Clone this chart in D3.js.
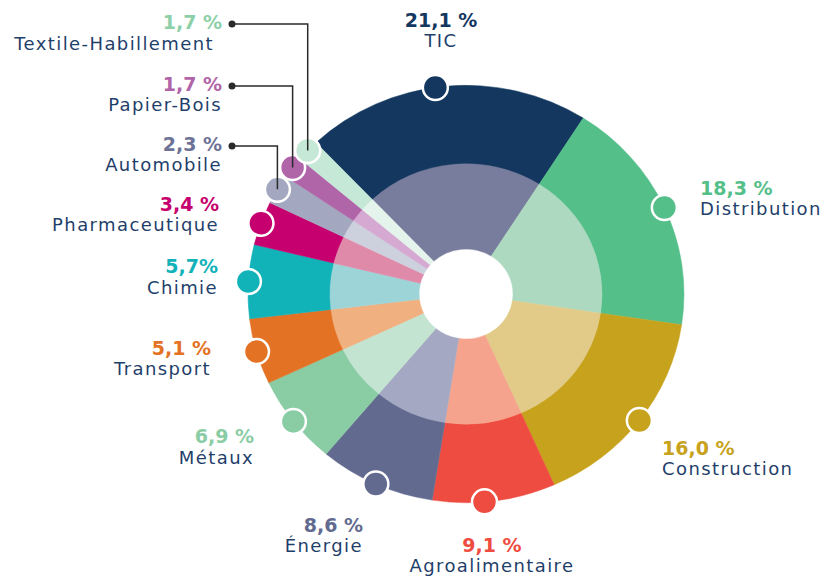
<!DOCTYPE html>
<html><head><meta charset="utf-8">
<script src="https://cdn.jsdelivr.net/npm/d3@7/dist/d3.min.js"></script>
<style>
html,body{margin:0;padding:0;background:#fff;}
svg{display:block;}
.name{font-family:"DejaVu Sans",sans-serif;font-size:18px;letter-spacing:1.4px;fill:#1f3f6b;}
.pct{font-family:"DejaVu Sans",sans-serif;font-weight:bold;font-size:19px;}
</style></head>
<body>
<svg id="c" width="825" height="577"></svg>
<script>
const categories = ["TIC","Distribution","Construction","Agroalimentaire","Énergie","Métaux","Transport","Chimie","Pharmaceutique","Automobile","Papier-Bois","Textile-Habillement"];
const values = [21.1,18.3,16.0,9.1,8.6,6.9,5.1,5.7,3.4,2.3,1.7,1.7];
const valueLabels = ["21,1 %","18,3 %","16,0 %","9,1 %","8,6 %","6,9 %","5,1 %","5,7%","3,4 %","2,3 %","1,7 %","1,7 %"];
const outerColors = ["#13375f","#55bf8a","#c7a21c","#ef4c41","#626b8f","#8acda5","#e47224","#12b2b9","#c6006e","#a3a8c0","#b165a9","#c6e8d6"];
const innerColors = ["#787d9d","#acd9bf","#e2cb88","#f5a38c","#a4a8c3","#c3e4d0","#f1b07f","#9dd4d8","#e08aaa","#cdd0dd","#d5a9d2","#e4f4ec"];
const labelColors = ["#13375f","#55bf8a","#c7a21c","#ef4c41","#626b8f","#8acda5","#e47224","#12b2b9","#c6006e","#6d7397","#b165a9","#8dd0a8"];

// layout (not data)
const cx = 466, cy = 294, sy = 0.957;
const R = 218, Rmid = 136, Rhole = 47;
const start = -43.5 * Math.PI / 180;
const markerShift = {"TIC": -2.6, "Agroalimentaire": 2.6};
const labelLayout = {
  "TIC": {x:441, y:27, ny:47, a:"middle"},
  "Distribution": {x:700, y:195, ny:215, a:"start"},
  "Construction": {x:662, y:455, ny:475, a:"start"},
  "Agroalimentaire": {x:492, y:552, ny:572, a:"middle"},
  "Énergie": {x:363, y:532, ny:552, a:"end"},
  "Métaux": {x:254, y:443, ny:464, a:"end"},
  "Transport": {x:211, y:355, ny:375, a:"end"},
  "Chimie": {x:218, y:273, ny:294, a:"end"},
  "Pharmaceutique": {x:219, y:211, ny:231, a:"end"},
  "Automobile": {x:222, y:151, ny:171, a:"end", lead:true},
  "Papier-Bois": {x:222, y:91, ny:111, a:"end", lead:true},
  "Textile-Habillement": {x:222, y:29, ny:50, nx:214, a:"end", lead:true}
};

const data = categories.map((c,i)=>({cat:c, value:values[i], label:valueLabels[i], outer:outerColors[i], inner:innerColors[i], lc:labelColors[i]}));
const pie = d3.pie().sort(null).value(d=>d.value).startAngle(start).endAngle(start + 2*Math.PI);
const arcs = pie(data);

const svg = d3.select("#c");
const g = svg.append("g").attr("transform",`translate(${cx},${cy}) scale(1,${sy})`);
const outerArc = d3.arc().innerRadius(Rmid-0.5).outerRadius(R);
const innerArc = d3.arc().innerRadius(Rhole).outerRadius(Rmid);
g.selectAll("path.o").data(arcs).join("path").attr("class","o").attr("d",outerArc).attr("fill",d=>d.data.outer).attr("stroke",d=>d.data.outer).attr("stroke-width",0.5);
g.selectAll("path.i").data(arcs).join("path").attr("class","i").attr("d",innerArc).attr("fill",d=>d.data.inner).attr("stroke",d=>d.data.inner).attr("stroke-width",0.5);

const mpos = d => {
  const a = (d.startAngle + d.endAngle)/2 + (markerShift[d.data.cat]||0)*Math.PI/180;
  return [cx + R*Math.sin(a), cy - R*sy*Math.cos(a)];
};
svg.selectAll("circle.m").data(arcs).join("circle").attr("class","m")
  .attr("cx",d=>mpos(d)[0]).attr("cy",d=>mpos(d)[1]).attr("r",12.5)
  .attr("fill",d=>d.data.outer).attr("stroke","#fff").attr("stroke-width",2.5);

// leader lines
arcs.filter(d=>labelLayout[d.data.cat].lead).forEach(d=>{
  const L = labelLayout[d.data.cat];
  const [mx,my] = mpos(d);
  const ly = L.y - 5;
  svg.append("path").attr("d",`M232,${ly}H${mx}V${my}`).attr("fill","none").attr("stroke","#2a2a2a").attr("stroke-width",1.5);
  svg.append("circle").attr("cx",232).attr("cy",ly).attr("r",3.5).attr("fill","#2a2a2a");
});

// labels
arcs.forEach(d=>{
  const L = labelLayout[d.data.cat];
  svg.append("text").attr("class","pct").attr("x",L.x).attr("y",L.y).attr("text-anchor",L.a).attr("fill",d.data.lc).text(d.data.label);
  svg.append("text").attr("class","name").attr("x",L.nx!==undefined?L.nx:L.x).attr("y",L.ny).attr("text-anchor",L.a).text(d.data.cat);
});
</script>
</body></html>
